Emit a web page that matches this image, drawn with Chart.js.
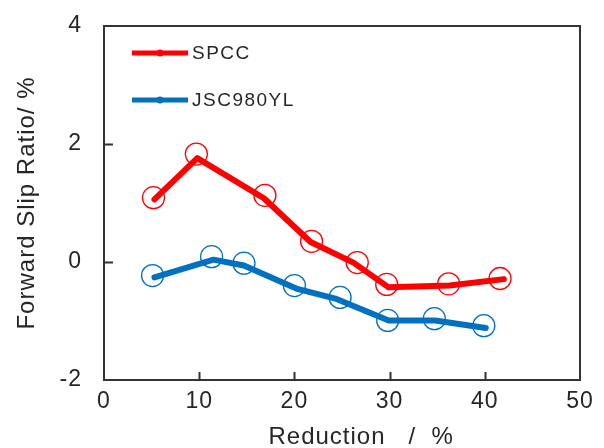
<!DOCTYPE html>
<html lang="en">
<head>
<meta charset="UTF-8">
<title>Forward slip ratio vs reduction</title>
<script src="https://cdn.jsdelivr.net/npm/chart.js"></script>
<style>
  html, body { margin: 0; padding: 0; background: #fff; }
  #wrap { width: 604px; height: 448px; }
</style>
</head>
<body>
<div id="wrap"><canvas id="chart" width="604" height="448"></canvas></div>
<script>
// ---- data ----
const seriesNames = ['SPCC', 'JSC980YL'];
const seriesColors = ['#FF0000', '#0070C0'];

// measured points (open circles)
const spccX = [5.2, 9.7, 16.9, 21.8, 26.6, 29.7, 36.2, 41.6];
const spccY = [1.09, 1.83, 1.13, 0.35, -0.01, -0.38, -0.37, -0.28];
const jscX  = [5.1, 11.3, 14.7, 20.0, 24.8, 29.8, 34.7, 39.9];
const jscY  = [-0.23, 0.09, -0.02, -0.40, -0.60, -0.99, -0.96, -1.08];

// thick trend lines (drawn slightly off the markers in the original)
const spccLineX = [5.3, 9.8, 16.8, 21.7, 26.2, 29.9, 36.3, 42.0];
const spccLineY = [1.06, 1.76, 1.08, 0.34, -0.01, -0.43, -0.40, -0.29];
const jscLineX  = [5.3, 11.5, 14.7, 20.2, 24.3, 29.9, 34.8, 40.1];
const jscLineY  = [-0.26, 0.04, -0.06, -0.45, -0.62, -0.99, -0.99, -1.12];

const xTicks = [0, 10, 20, 30, 40, 50];
const yTicks = [-2, 0, 2, 4];

const pts = (xs, ys) => xs.map((x, i) => ({ x: x, y: ys[i] }));

const TEXT = '#262626';
const AXIS = '#333333';
const FONT = 'Arial, "Liberation Sans", sans-serif';

// slight letter spacing like the original figure text
const spacing = {
  id: 'spacing',
  beforeDraw(chart) { chart.ctx.letterSpacing = '1px'; }
};

// frame + inward tick marks
const frame = {
  id: 'frame',
  afterDraw(chart) {
    const { ctx, chartArea: a, scales } = chart;
    ctx.save();
    ctx.strokeStyle = AXIS;
    ctx.lineWidth = 2;
    ctx.strokeRect(a.left, a.top, a.right - a.left, a.bottom - a.top);
    ctx.beginPath();
    xTicks.slice(1, -1).forEach(v => {
      const px = Math.round(scales.x.getPixelForValue(v)) + 0.5;
      ctx.moveTo(px, a.bottom);
      ctx.lineTo(px, a.bottom - 8);
    });
    yTicks.slice(1, -1).forEach(v => {
      const py = Math.round(scales.y.getPixelForValue(v)) + 0.5;
      ctx.moveTo(a.left, py);
      ctx.lineTo(a.left + 9, py);
    });
    ctx.stroke();
    ctx.restore();
  }
};

// legend drawn inside the plot, top-left
const insideLegend = {
  id: 'insideLegend',
  afterDraw(chart) {
    const { ctx, chartArea: a } = chart;
    ctx.save();
    ctx.letterSpacing = '1.5px';
    ctx.font = '19px ' + FONT;
    ctx.textBaseline = 'middle';
    ctx.textAlign = 'left';
    const rows = [a.top + 27, a.top + 74];
    seriesNames.forEach((name, i) => {
      const y = rows[i];
      ctx.strokeStyle = seriesColors[i];
      ctx.lineWidth = 5;
      ctx.beginPath();
      ctx.moveTo(a.left + 28, y);
      ctx.lineTo(a.left + 84, y);
      ctx.stroke();
      ctx.fillStyle = seriesColors[i];
      ctx.beginPath();
      ctx.arc(a.left + 56, y, 3.5, 0, Math.PI * 2);
      ctx.fill();
      ctx.fillStyle = TEXT;
      ctx.fillText(name, a.left + 88, y + 1);
    });
    ctx.restore();
  }
};

const lineSet = (label, data, color) => ({
  label: label, data: data,
  borderColor: color, backgroundColor: color,
  borderWidth: 6, pointRadius: 0, showLine: true, tension: 0,
  borderCapStyle: 'round', borderJoinStyle: 'round', order: 1
});
const markSet = (label, data, color) => ({
  label: label, data: data,
  borderColor: color, backgroundColor: 'rgba(0,0,0,0)',
  pointBorderColor: color, pointBackgroundColor: 'rgba(0,0,0,0)',
  pointRadius: 11, pointBorderWidth: 1.3, showLine: false, order: 2
});

new Chart(document.getElementById('chart').getContext('2d'), {
  type: 'scatter',
  data: {
    datasets: [
      lineSet(seriesNames[0], pts(spccLineX, spccLineY), seriesColors[0]),
      lineSet(seriesNames[1], pts(jscLineX, jscLineY), seriesColors[1]),
      markSet(seriesNames[0] + ' data', pts(spccX, spccY), seriesColors[0]),
      markSet(seriesNames[1] + ' data', pts(jscX, jscY), seriesColors[1])
    ]
  },
  options: {
    responsive: false,
    animation: false,
    events: [],
    layout: { padding: { top: 26, right: 24, left: 0, bottom: 0 } },
    plugins: { legend: { display: false }, tooltip: { enabled: false } },
    scales: {
      x: {
        type: 'linear', min: 0, max: 50,
        afterBuildTicks: s => { s.ticks = xTicks.map(v => ({ value: v })); },
        afterFit: s => { s.height = 68; s.paddingLeft = 0; s.paddingRight = 0; },
        grid: { display: false, drawTicks: false },
        border: { display: false },
        ticks: { color: TEXT, padding: 8, maxRotation: 0,
                 font: { family: FONT, size: 23 } },
        title: { display: true, text: '     Reduction   /  %', color: TEXT,
                 padding: { top: 0, bottom: -1 },
                 font: { family: FONT, size: 24, lineHeight: 1 } }
      },
      y: {
        type: 'linear', min: -2, max: 4,
        afterBuildTicks: s => { s.ticks = yTicks.map(v => ({ value: v })); },
        afterFit: s => { s.width = 104; s.paddingTop = 0; s.paddingBottom = 0; },
        grid: { display: false, drawTicks: false },
        border: { display: false },
        ticks: { color: TEXT, padding: 22,
                 font: { family: FONT, size: 23 } },
        title: { display: true, text: 'Forward Slip Ratio/ %', color: TEXT,
                 padding: { top: 15, bottom: 0 },
                 font: { family: FONT, size: 24, lineHeight: 1 } }
      }
    }
  },
  plugins: [spacing, frame, insideLegend]
});
</script>
</body>
</html>
